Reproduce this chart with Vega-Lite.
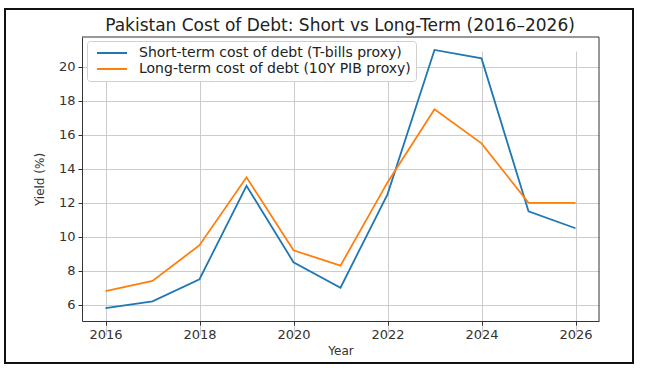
{
  "$schema": "https://vega.github.io/schema/vega-lite/v6.json",
  "autosize": "none",
  "width": 628,
  "height": 354,
  "padding": {"left": 5, "top": 9, "right": 16, "bottom": 13},
  "background": "white",
  "title": {
    "text": "Pakistan Cost of Debt: Short vs Long-Term (2016–2026)",
    "font": "DejaVu Sans",
    "fontSize": 17,
    "fontWeight": "normal",
    "color": "#222222",
    "anchor": "middle",
    "frame": "group",
    "baseline": "alphabetic",
    "offset": -39,
    "dx": 21
  },
  "config": {
    "view": {"stroke": "#111111", "strokeWidth": 2},
    "font": "DejaVu Sans",
    "axis": {
      "labelFont": "DejaVu Sans",
      "titleFont": "DejaVu Sans",
      "labelColor": "#333333",
      "titleColor": "#333333",
      "domainColor": "#333333",
      "tickColor": "#333333",
      "gridColor": "#cccccc",
      "gridWidth": 1,
      "tickSize": 4,
      "labelFontSize": 13,
      "titleFontSize": 12,
      "titleFontWeight": "normal"
    }
  },
  "layer": [
    {
      "data": {
        "values": [
          {"year": 2016, "series": "Short-term cost of debt (T-bills proxy)", "yield": 5.8},
          {"year": 2017, "series": "Short-term cost of debt (T-bills proxy)", "yield": 6.2},
          {"year": 2018, "series": "Short-term cost of debt (T-bills proxy)", "yield": 7.5},
          {"year": 2019, "series": "Short-term cost of debt (T-bills proxy)", "yield": 13.0},
          {"year": 2020, "series": "Short-term cost of debt (T-bills proxy)", "yield": 8.5},
          {"year": 2021, "series": "Short-term cost of debt (T-bills proxy)", "yield": 7.0},
          {"year": 2022, "series": "Short-term cost of debt (T-bills proxy)", "yield": 12.5},
          {"year": 2023, "series": "Short-term cost of debt (T-bills proxy)", "yield": 21.0},
          {"year": 2024, "series": "Short-term cost of debt (T-bills proxy)", "yield": 20.5},
          {"year": 2025, "series": "Short-term cost of debt (T-bills proxy)", "yield": 11.5},
          {"year": 2026, "series": "Short-term cost of debt (T-bills proxy)", "yield": 10.5},
          {"year": 2016, "series": "Long-term cost of debt (10Y PIB proxy)", "yield": 6.8},
          {"year": 2017, "series": "Long-term cost of debt (10Y PIB proxy)", "yield": 7.4},
          {"year": 2018, "series": "Long-term cost of debt (10Y PIB proxy)", "yield": 9.5},
          {"year": 2019, "series": "Long-term cost of debt (10Y PIB proxy)", "yield": 13.5},
          {"year": 2020, "series": "Long-term cost of debt (10Y PIB proxy)", "yield": 9.2},
          {"year": 2021, "series": "Long-term cost of debt (10Y PIB proxy)", "yield": 8.3},
          {"year": 2022, "series": "Long-term cost of debt (10Y PIB proxy)", "yield": 13.2},
          {"year": 2023, "series": "Long-term cost of debt (10Y PIB proxy)", "yield": 17.5},
          {"year": 2024, "series": "Long-term cost of debt (10Y PIB proxy)", "yield": 15.5},
          {"year": 2025, "series": "Long-term cost of debt (10Y PIB proxy)", "yield": 12.0},
          {"year": 2026, "series": "Long-term cost of debt (10Y PIB proxy)", "yield": 12.0}
        ]
      },
      "mark": {"type": "line", "strokeWidth": 1.8},
      "encoding": {
        "x": {
          "field": "year",
          "type": "quantitative",
          "scale": {"domain": [2015.5, 2026.5], "range": [77, 594], "nice": false, "zero": false},
          "axis": {
            "orient": "bottom",
            "offset": -42,
            "values": [2016, 2018, 2020, 2022, 2024, 2026],
            "format": "d",
            "title": "Year",
            "titlePadding": 4,
            "labelPadding": 3
          }
        },
        "y": {
          "field": "yield",
          "type": "quantitative",
          "scale": {"domain": [5.04, 21.76], "range": [312, 28], "nice": false, "zero": false},
          "axis": {
            "orient": "left",
            "offset": -77,
            "values": [6, 8, 10, 12, 14, 16, 18, 20],
            "title": "Yield (%)",
            "titlePadding": 12,
            "labelPadding": 3
          }
        },
        "color": {
          "field": "series",
          "type": "nominal",
          "scale": {
            "domain": ["Short-term cost of debt (T-bills proxy)", "Long-term cost of debt (10Y PIB proxy)"],
            "range": ["#1f77b4", "#ff7f0e"]
          },
          "legend": {
            "title": null,
            "orient": "none",
            "legendX": 82,
            "legendY": 32,
            "symbolType": "M-0.4,0H5.6",
            "symbolSize": 100,
            "symbolStrokeWidth": 2,
            "labelOffset": 33,
            "labelFontSize": 14,
            "labelFont": "DejaVu Sans",
            "labelColor": "#222222",
            "labelLimit": 400,
            "rowPadding": 2,
            "padding": 5,
            "strokeColor": "#d0d0d0",
            "fillColor": "#ffffff",
            "cornerRadius": 3
          }
        }
      }
    },
    {
      "data": {"values": [{}]},
      "mark": {"type": "rule", "color": "#333333", "strokeWidth": 1},
      "encoding": {
        "x": {"datum": 2015.5, "type": "quantitative"},
        "x2": {"datum": 2026.5},
        "y": {"datum": 21.76, "type": "quantitative"}
      }
    },
    {
      "data": {"values": [{}]},
      "mark": {"type": "rule", "color": "#333333", "strokeWidth": 1},
      "encoding": {
        "x": {"datum": 2026.5, "type": "quantitative"},
        "y": {"datum": 5.04, "type": "quantitative"},
        "y2": {"datum": 21.76}
      }
    }
  ]
}
